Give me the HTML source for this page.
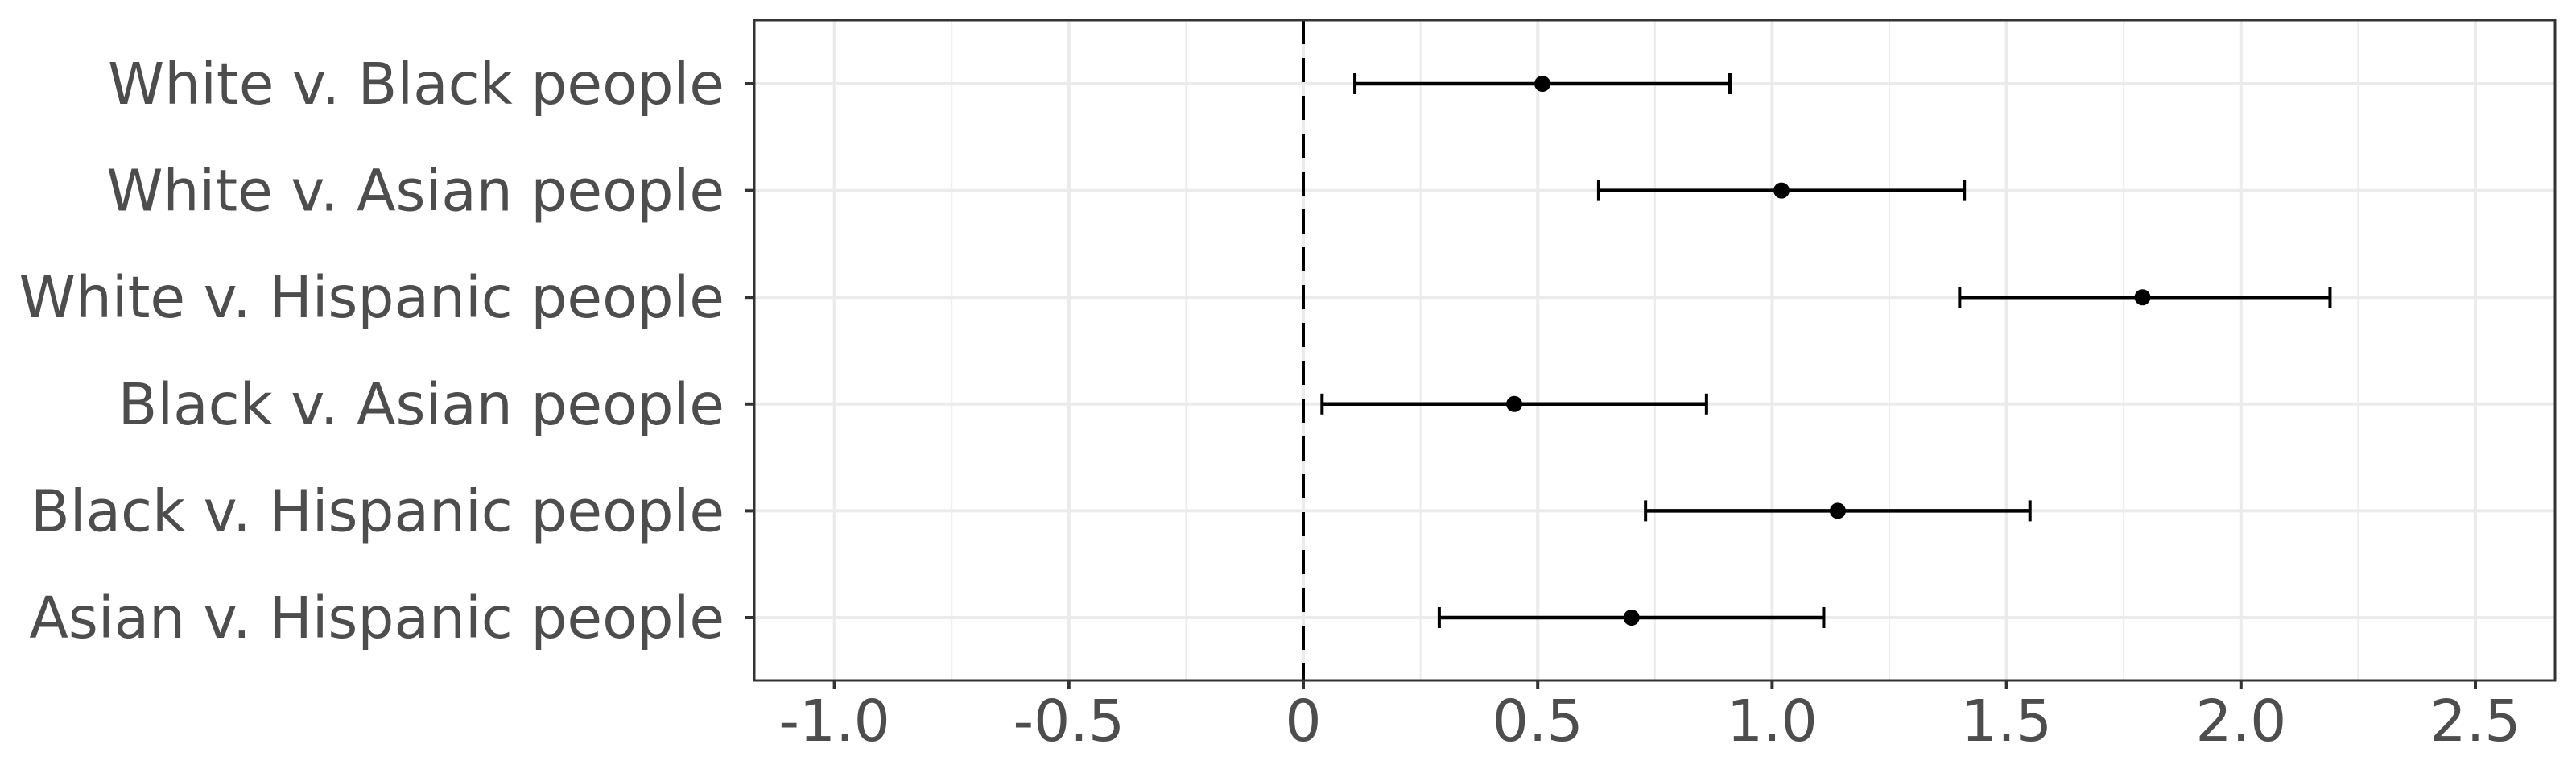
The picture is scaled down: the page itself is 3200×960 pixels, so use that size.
<!DOCTYPE html>
<html><head><meta charset="utf-8"><style>
html,body{margin:0;padding:0;background:#fff;}
svg{display:block;}
text{font-family:"DejaVu Sans","Liberation Sans",sans-serif;fill:#4d4d4d;}
</style></head><body>
<svg id="chart" width="3200" height="960" viewBox="0 0 3200 960" xmlns="http://www.w3.org/2000/svg"></svg>
<script>
const categories = ["White v. Black people","White v. Asian people","White v. Hispanic people","Black v. Asian people","Black v. Hispanic people","Asian v. Hispanic people"];
const estimates = [0.51, 1.02, 1.79, 0.45, 1.14, 0.70];
const lowerCI = [0.11, 0.63, 1.40, 0.04, 0.73, 0.29];
const upperCI = [0.91, 1.41, 2.19, 0.86, 1.55, 1.11];
const xTicks = [-1.0, -0.5, 0, 0.5, 1.0, 1.5, 2.0, 2.5];
const xTickLabels = ["-1.0","-0.5","0","0.5","1.0","1.5","2.0","2.5"];
const xMinor = [-0.75, -0.25, 0.25, 0.75, 1.25, 1.75, 2.25];

const NS = "http://www.w3.org/2000/svg";
const svg = document.getElementById("chart");
const L = 937, R = 3174, T = 25, B = 845;
const x = v => 1619 + v * 582.4;
const y = i => 104 + i * 132.6;
function el(tag, attrs, parent) {
  const e = document.createElementNS(NS, tag);
  for (const k in attrs) e.setAttribute(k, attrs[k]);
  (parent || svg).appendChild(e);
  return e;
}
xMinor.forEach(v => {
  const g = el("line", {x1: x(v), x2: x(v), y1: T, y2: B, stroke: "#ebebeb", "stroke-width": 2});
  
  
});
xTicks.forEach(v => {
  const g = el("line", {x1: x(v), x2: x(v), y1: T, y2: B, stroke: "#ebebeb", "stroke-width": 4});
  
  
});
categories.forEach((c, i) => {
  const g = el("line", {x1: L, x2: R, y1: y(i), y2: y(i), stroke: "#ebebeb", "stroke-width": 4});
  
  
});
const zl = el("line", {x1: x(0), x2: x(0), y1: T, y2: B, stroke: "#000", "stroke-width": 4, "stroke-dasharray": "30 17"});


categories.forEach((c, i) => {
  const yy = y(i);
  const ln = el("line", {x1: x(lowerCI[i]), x2: x(upperCI[i]), y1: yy, y2: yy, stroke: "#000", "stroke-width": 4.5});
  
  
  [lowerCI[i], upperCI[i]].forEach(v => {
    const cap = el("line", {x1: x(v), x2: x(v), y1: yy - 13, y2: yy + 13, stroke: "#000", "stroke-width": 4});
    
    
  });
  const pt = el("circle", {cx: x(estimates[i]), cy: yy, r: 10, fill: "#000"});
  
  
  const tk = el("line", {x1: L - 11, x2: L, y1: yy, y2: yy, stroke: "#333", "stroke-width": 4});
  
  
  const t = el("text", {x: 900, y: yy + 25, "text-anchor": "end", "font-size": 71});
  t.textContent = c;
  
  
});
xTicks.forEach((v, i) => {
  const tk = el("line", {x1: x(v), x2: x(v), y1: B, y2: B + 11, stroke: "#333", "stroke-width": 4});
  
  
  const t = el("text", {x: x(v), y: 920, "text-anchor": "middle", "font-size": 71});
  t.textContent = xTickLabels[i];
  
  
});
const border = el("rect", {x: L, y: T, width: R - L, height: B - T, fill: "none", stroke: "#333", "stroke-width": 3});


</script>
</body></html>
